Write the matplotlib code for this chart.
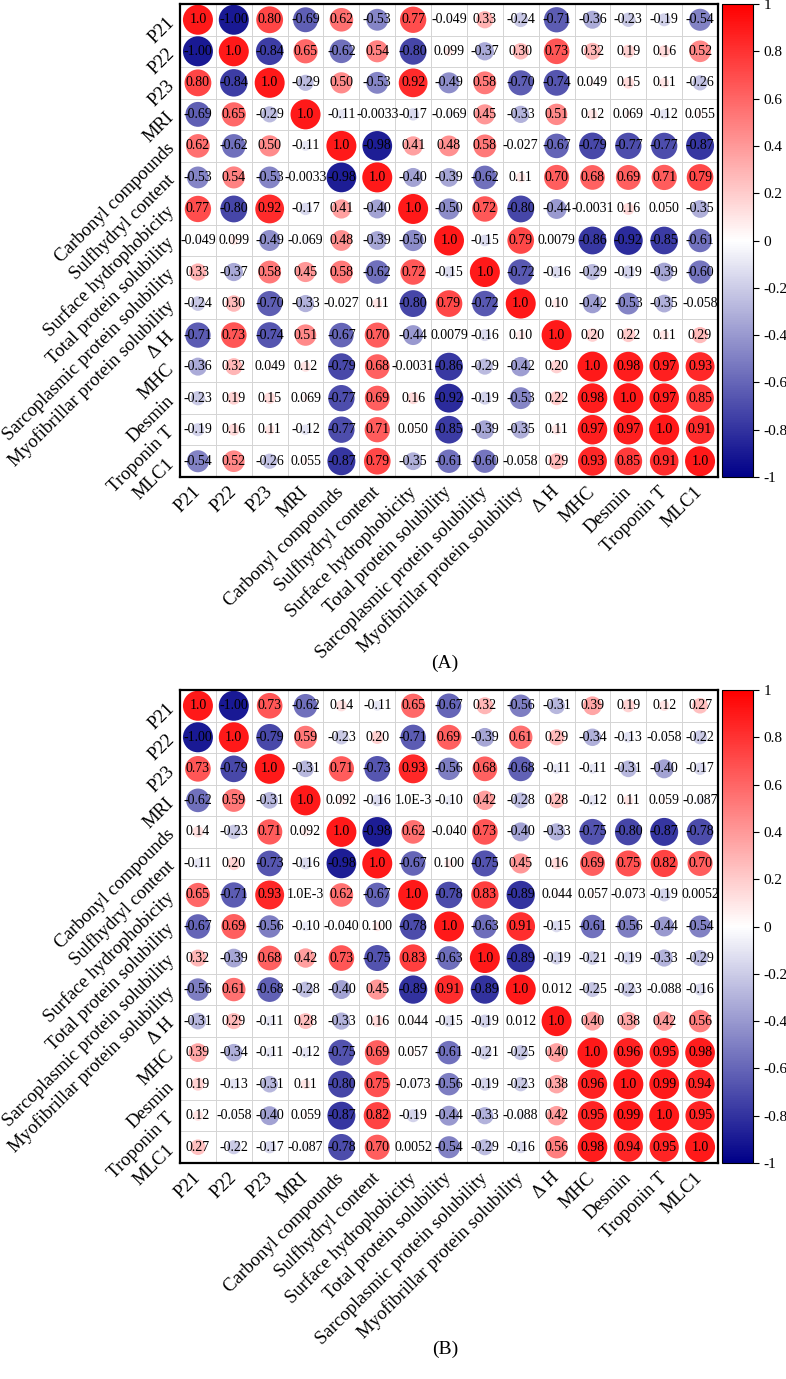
import matplotlib
matplotlib.use('Agg')
import matplotlib.pyplot as plt
from matplotlib.colors import LinearSegmentedColormap, Normalize
from matplotlib.cm import ScalarMappable
import numpy as np

plt.rcParams['font.family'] = ['Liberation Serif', 'DejaVu Serif']

labels = ['P21', 'P22', 'P23', 'MRI', 'Carbonyl compounds', 'Sulfhydryl content',
          'Surface hydrophobicity', 'Total protein solubility',
          'Sarcoplasmic protein solubility', 'Myofibrillar protein solubility',
          '\u0394 H', 'MHC', 'Desmin', 'Troponin T', 'MLC1']

# correlation values as printed in the cells (row by row)
corr_a = [
    '1.0 -1.00 0.80 -0.69 0.62 -0.53 0.77 -0.049 0.33 -0.24 -0.71 -0.36 -0.23 -0.19 -0.54',
    '-1.00 1.0 -0.84 0.65 -0.62 0.54 -0.80 0.099 -0.37 0.30 0.73 0.32 0.19 0.16 0.52',
    '0.80 -0.84 1.0 -0.29 0.50 -0.53 0.92 -0.49 0.58 -0.70 -0.74 0.049 0.15 0.11 -0.26',
    '-0.69 0.65 -0.29 1.0 -0.11 -0.0033 -0.17 -0.069 0.45 -0.33 0.51 0.12 0.069 -0.12 0.055',
    '0.62 -0.62 0.50 -0.11 1.0 -0.98 0.41 0.48 0.58 -0.027 -0.67 -0.79 -0.77 -0.77 -0.87',
    '-0.53 0.54 -0.53 -0.0033 -0.98 1.0 -0.40 -0.39 -0.62 0.11 0.70 0.68 0.69 0.71 0.79',
    '0.77 -0.80 0.92 -0.17 0.41 -0.40 1.0 -0.50 0.72 -0.80 -0.44 -0.0031 0.16 0.050 -0.35',
    '-0.049 0.099 -0.49 -0.069 0.48 -0.39 -0.50 1.0 -0.15 0.79 0.0079 -0.86 -0.92 -0.85 -0.61',
    '0.33 -0.37 0.58 0.45 0.58 -0.62 0.72 -0.15 1.0 -0.72 -0.16 -0.29 -0.19 -0.39 -0.60',
    '-0.24 0.30 -0.70 -0.33 -0.027 0.11 -0.80 0.79 -0.72 1.0 0.10 -0.42 -0.53 -0.35 -0.058',
    '-0.71 0.73 -0.74 0.51 -0.67 0.70 -0.44 0.0079 -0.16 0.10 1.0 0.20 0.22 0.11 0.29',
    '-0.36 0.32 0.049 0.12 -0.79 0.68 -0.0031 -0.86 -0.29 -0.42 0.20 1.0 0.98 0.97 0.93',
    '-0.23 0.19 0.15 0.069 -0.77 0.69 0.16 -0.92 -0.19 -0.53 0.22 0.98 1.0 0.97 0.85',
    '-0.19 0.16 0.11 -0.12 -0.77 0.71 0.050 -0.85 -0.39 -0.35 0.11 0.97 0.97 1.0 0.91',
    '-0.54 0.52 -0.26 0.055 -0.87 0.79 -0.35 -0.61 -0.60 -0.058 0.29 0.93 0.85 0.91 1.0',
]

corr_b = [
    '1.0 -1.00 0.73 -0.62 0.14 -0.11 0.65 -0.67 0.32 -0.56 -0.31 0.39 0.19 0.12 0.27',
    '-1.00 1.0 -0.79 0.59 -0.23 0.20 -0.71 0.69 -0.39 0.61 0.29 -0.34 -0.13 -0.058 -0.22',
    '0.73 -0.79 1.0 -0.31 0.71 -0.73 0.93 -0.56 0.68 -0.68 -0.11 -0.11 -0.31 -0.40 -0.17',
    '-0.62 0.59 -0.31 1.0 0.092 -0.16 1.0E-3 -0.10 0.42 -0.28 0.28 -0.12 0.11 0.059 -0.087',
    '0.14 -0.23 0.71 0.092 1.0 -0.98 0.62 -0.040 0.73 -0.40 -0.33 -0.75 -0.80 -0.87 -0.78',
    '-0.11 0.20 -0.73 -0.16 -0.98 1.0 -0.67 0.100 -0.75 0.45 0.16 0.69 0.75 0.82 0.70',
    '0.65 -0.71 0.93 1.0E-3 0.62 -0.67 1.0 -0.78 0.83 -0.89 0.044 0.057 -0.073 -0.19 0.0052',
    '-0.67 0.69 -0.56 -0.10 -0.040 0.100 -0.78 1.0 -0.63 0.91 -0.15 -0.61 -0.56 -0.44 -0.54',
    '0.32 -0.39 0.68 0.42 0.73 -0.75 0.83 -0.63 1.0 -0.89 -0.19 -0.21 -0.19 -0.33 -0.29',
    '-0.56 0.61 -0.68 -0.28 -0.40 0.45 -0.89 0.91 -0.89 1.0 0.012 -0.25 -0.23 -0.088 -0.16',
    '-0.31 0.29 -0.11 0.28 -0.33 0.16 0.044 -0.15 -0.19 0.012 1.0 0.40 0.38 0.42 0.56',
    '0.39 -0.34 -0.11 -0.12 -0.75 0.69 0.057 -0.61 -0.21 -0.25 0.40 1.0 0.96 0.95 0.98',
    '0.19 -0.13 -0.31 0.11 -0.80 0.75 -0.073 -0.56 -0.19 -0.23 0.38 0.96 1.0 0.99 0.94',
    '0.12 -0.058 -0.40 0.059 -0.87 0.82 -0.19 -0.44 -0.33 -0.088 0.42 0.95 0.99 1.0 0.95',
    '0.27 -0.22 -0.17 -0.087 -0.78 0.70 0.0052 -0.54 -0.29 -0.16 0.56 0.98 0.94 0.95 1.0',
]

cbar_ticks = [1, 0.8, 0.6, 0.4, 0.2, 0, -0.2, -0.4, -0.6, -0.8, -1]

cmap = LinearSegmentedColormap.from_list('rwb', ['#000088', '#ffffff', '#ff0000'])
norm = Normalize(-1, 1)

W, H = 786, 1379
fig = plt.figure(figsize=(W / 100, H / 100), dpi=100)


def px_rect(x0, y0, x1, y1):
    return [x0 / W, 1 - y1 / H, (x1 - x0) / W, (y1 - y0) / H]


def corr_panel(rows, top, title):
    txt = [r.split() for r in rows]
    vals = np.array([[float(t) for t in r] for r in txt])
    n = len(labels)
    ax = fig.add_axes(px_rect(180, top, 718, top + 473))
    xx, yy = np.meshgrid(np.arange(n), np.arange(n))
    dmax = 30  # px diameter for |r| = 1
    sizes = (dmax * 0.72 * np.sqrt(np.abs(vals))) ** 2
    ax.scatter(xx.ravel(), yy.ravel(), s=sizes.ravel(), c=vals.ravel(),
               cmap=cmap, norm=norm, edgecolors='none', alpha=0.9, zorder=2)
    for i in range(n):
        for j in range(n):
            ax.text(j, i, txt[i][j], ha='center', va='center', fontsize=10,
                    color='black', zorder=3)
    ax.set_xlim(-0.5, n - 0.5)
    ax.set_ylim(n - 0.5, -0.5)
    ax.set_xticks(np.arange(n))
    ax.set_yticks(np.arange(n))
    ax.set_xticks(np.arange(n + 1) - 0.5, minor=True)
    ax.set_yticks(np.arange(n + 1) - 0.5, minor=True)
    ax.grid(which='minor', color='#d4d4d4', lw=0.7, zorder=0)
    ax.tick_params(which='both', length=0)
    ax.tick_params(axis='x', pad=9)
    ax.tick_params(axis='y', pad=6)
    ax.set_xticklabels(labels, rotation=45, ha='right', va='center',
                       rotation_mode='anchor', fontsize=13.5)
    ax.set_yticklabels(labels, rotation=45, ha='right', va='center',
                       rotation_mode='anchor', fontsize=13.5)
    for s in ax.spines.values():
        s.set_linewidth(1.6)

    cax = fig.add_axes(px_rect(722, top, 753, top + 473))
    cb = fig.colorbar(ScalarMappable(norm=norm, cmap=cmap), cax=cax)
    cb.set_ticks(cbar_ticks)
    cb.set_ticklabels([('%g' % t) for t in cbar_ticks])
    cb.ax.tick_params(labelsize=11, length=4, width=0.8)
    cb.outline.set_linewidth(0.8)

    fig.text(445 / W, 1 - (top + 659) / H, title, ha='center', va='center', fontsize=14)


corr_panel(corr_a, 4, '(A)')
corr_panel(corr_b, 690, '(B)')

fig.savefig('out.png', dpi=100, facecolor='white')
